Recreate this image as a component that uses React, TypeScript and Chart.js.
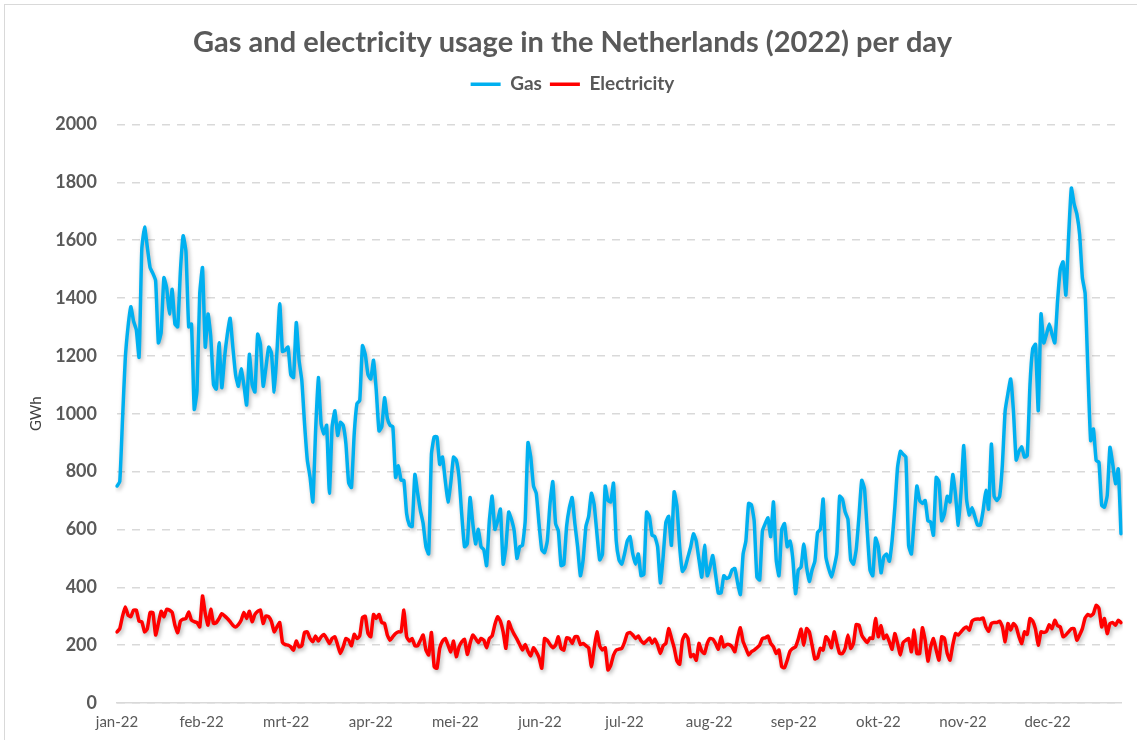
import React, { useEffect, useRef } from 'react';
import { Chart, registerables } from 'chart.js';

Chart.register(...registerables);

// ---- Data ----
const chartTitle = 'Gas and electricity usage in the Netherlands (2022) per day';
const monthLabels = ['jan-22', 'feb-22', 'mrt-22', 'apr-22', 'mei-22', 'jun-22', 'jul-22', 'aug-22', 'sep-22', 'okt-22', 'nov-22', 'dec-22'];
const yMin = 0;
const yMax = 2000;
const yStep = 200;

const gas = [
  750, 765, 980, 1190, 1300, 1370, 1320, 1290, 1195, 1570,
  1645, 1575, 1505, 1485, 1460, 1245, 1280, 1470, 1435, 1345,
  1430, 1310, 1300, 1495, 1615, 1560, 1300, 1310, 1015, 1080,
  1415, 1505, 1230, 1345, 1265, 1100, 1085, 1245, 1090, 1195,
  1275, 1330, 1230, 1135, 1095, 1155, 1100, 1030, 1205, 1100,
  1075, 1275, 1240, 1095, 1160, 1230, 1210, 1075, 1215, 1380,
  1215, 1220, 1230, 1135, 1125, 1315, 1185, 1115, 965, 840,
  780, 695, 940, 1125, 965, 930, 960, 725, 955, 1010,
  925, 970, 960, 895, 760, 745, 930, 1035, 1045, 1235,
  1205, 1135, 1120, 1185, 1080, 940, 955, 1055, 985, 960,
  955, 780, 820, 770, 770, 655, 615, 610, 790, 725,
  665, 620, 540, 515, 860, 920, 920, 825, 850, 770,
  695, 760, 850, 840, 780, 650, 540, 550, 710, 620,
  550, 600, 540, 530, 475, 630, 715, 600, 630, 670,
  480, 540, 660, 635, 595, 500, 540, 545, 630, 900,
  850, 750, 725, 620, 530, 520, 560, 690, 765, 620,
  595, 475, 480, 610, 675, 710, 620, 540, 440, 495,
  610, 645, 725, 685, 585, 495, 515, 750, 700, 695,
  760, 560, 495, 480, 515, 560, 575, 515, 480, 515,
  440, 445, 660, 645, 580, 575, 540, 415, 505, 625,
  645, 545, 730, 680, 540, 455, 470, 505, 540, 585,
  560, 495, 435, 545, 440, 470, 510, 445, 380, 380,
  440, 430, 435, 460, 465, 415, 375, 515, 560, 690,
  685, 630, 435, 425, 595, 620, 640, 575, 695, 495,
  440, 600, 620, 540, 560, 500, 378, 460, 470,
  550, 470, 420, 460, 490, 590, 600, 705, 505, 465,
  435, 470, 520, 715, 705, 660, 635, 495, 480, 530,
  645, 770, 740, 595, 460, 440, 570, 540, 450, 505,
  515, 490, 560, 675, 815, 870, 860, 850, 545, 515,
  630, 750, 700, 690, 700, 630, 625, 580, 780, 765,
  630, 655, 715, 695, 790, 720, 615, 730, 890,
  705, 650, 675, 645, 615, 615, 665, 735, 670, 895,
  715, 700, 715, 825, 1010, 1070, 1120, 1010, 840, 870,
  885, 850, 855, 1100, 1225, 1240, 1010, 1345, 1245, 1275,
  1310, 1275, 1245, 1390, 1500, 1525, 1410, 1610, 1780, 1725,
  1690, 1620, 1470, 1415, 1150, 907, 947, 838, 832, 683,
  677, 717, 884, 826, 758, 809, 585,
];

const electricity = [
  246, 257, 300, 332, 304, 298, 321, 321, 283, 281,
  246, 257, 313, 313, 235, 275, 317, 298, 324, 321,
  313, 269, 243, 283, 290, 292, 315, 286, 281, 278,
  263, 370, 309, 269, 324, 275, 278, 292, 309, 301,
  292, 281, 269, 263, 271, 286, 313, 292, 317, 281,
  306, 317, 321, 275, 301, 298, 281, 246, 263, 278,
  209, 202, 200, 194, 183, 214, 194, 198, 244, 246,
  223, 212, 232, 214, 229, 237, 223, 206, 223, 229,
  200, 171, 194, 223, 217, 198, 237, 223, 232, 296,
  300, 240, 229, 306, 292, 306, 278, 275, 235, 217,
  229, 240, 246, 246, 321, 229, 214, 223, 198, 198,
  217, 235, 183, 166, 244, 125, 120, 189, 214, 223,
  200, 177, 214, 160, 194, 212, 220, 168, 206, 235,
  223, 209, 223, 217, 191, 223, 232, 271, 298, 283,
  246, 189, 281, 257, 237, 221, 202, 183, 202, 179,
  163, 191, 177, 157, 120, 223, 217, 202, 191, 200,
  229, 189, 183, 225, 223, 206, 229, 229, 202, 206,
  198, 191, 125, 189, 246, 198, 183, 191, 114, 130,
  165, 183, 186, 189, 210, 240, 244, 235, 223, 232,
  215, 206, 215, 225, 206, 221, 200, 171, 198, 206,
  257, 225, 191, 145, 134, 217, 237, 223, 160, 168,
  148, 206, 179, 171, 206, 223, 221, 206, 186, 229,
  194, 202, 202, 194, 177, 225, 260, 212, 189, 166,
  177, 183, 191, 200, 223, 225, 232, 206, 194, 171,
  183, 125, 122, 148, 179, 189, 194, 221, 255, 200,
  257, 246, 200, 152, 157, 189, 183, 229, 217, 191,
  246, 206, 171, 171, 189, 235, 189, 206, 271, 269,
  235, 220, 209, 225, 223, 292, 229, 267, 223, 235,
  212, 186, 240, 206, 166, 209, 217, 223, 177, 252,
  171, 171, 260, 217, 145, 194, 223, 183, 148, 229,
  223, 171, 148, 200, 240, 235, 246, 257, 263, 252,
  283, 289, 290, 290, 294, 263, 248, 275, 278, 278,
  283, 263, 212, 275, 252, 275, 263, 229, 206, 246,
  237, 292, 283, 255, 200, 246, 244, 248, 271, 257,
  286, 267, 263, 229, 235, 246, 257, 257, 217, 235,
  257, 294, 306, 301, 309, 338, 327, 263, 292, 240,
  275, 278, 269, 286, 278,
];

// one category per day of 2022
const dayLabels = gas.map((_, i) => {
  const d = new Date(Date.UTC(2022, 0, 1 + i));
  return `${d.getUTCDate()}-${d.getUTCMonth() + 1}-2022`;
});

// spacing (in days) between month labels on the axis
const MONTH_TICK_STEP = 30.67;

const W = 1137;
const H = 740;
const LEGEND_GAP = 20.6;
const PAD_LEFT = 24;

const shadowPlugin = {
  id: 'lineShadow',
  beforeDatasetDraw(chart: any) {
    const c = chart.ctx;
    c.save();
    c.shadowColor = 'rgba(0,0,0,0.28)';
    c.shadowBlur = 4;
    c.shadowOffsetX = 1.5;
    c.shadowOffsetY = 2.5;
  },
  afterDatasetDraw(chart: any) {
    chart.ctx.restore();
  },
};

const legendSpacer = {
  id: 'legendSpacer',
  afterInit(chart: any) {
    const lg = chart.legend;
    if (!lg) return;
    const fit = lg.fit;
    lg.fit = function () {
      fit.call(this);
      this.height += LEGEND_GAP;
    };
  },
};

export default function App() {
  const ref = useRef<HTMLCanvasElement | null>(null);

  useEffect(() => {
    if (!ref.current) return;
    const chart = new Chart(ref.current, {
      type: 'line',
      data: {
        labels: dayLabels,
        datasets: [
          {
            label: 'Gas',
            data: gas,
            borderColor: '#00B0F0',
            backgroundColor: '#00B0F0',
            borderWidth: 3.5,
            pointRadius: 0,
            tension: 0.15,
            borderJoinStyle: 'round',
            borderCapStyle: 'round',
          },
          {
            label: 'Electricity',
            data: electricity,
            borderColor: '#FF0000',
            backgroundColor: '#FF0000',
            borderWidth: 3.5,
            pointRadius: 0,
            tension: 0.15,
            borderJoinStyle: 'round',
            borderCapStyle: 'round',
          },
        ],
      },
      options: {
        responsive: false,
        animation: false,
        devicePixelRatio: 1,
        layout: { padding: { left: PAD_LEFT, right: 16, top: 0, bottom: 0 } },
        plugins: {
          title: {
            display: true,
            text: chartTitle,
            color: '#595959',
            font: { family: 'Lato', size: 29, weight: 'bold' },
            padding: { top: 25, bottom: 7 },
          },
          legend: {
            display: true,
            position: 'top',
            labels: {
              color: '#595959',
              font: { family: 'Lato', size: 19, weight: 'bold' },
              usePointStyle: true,
              pointStyle: 'line',
              pointStyleWidth: 30,
              boxHeight: 19,
              padding: 8,
            },
          },
          tooltip: { enabled: false },
        },
        scales: {
          x: {
            type: 'category',
            offset: false,
            grid: { display: false, drawTicks: false },
            border: { display: true, color: '#d9d9d9', width: 1.5 },
            ticks: {
              autoSkip: false,
              maxRotation: 0,
              minRotation: 0,
              padding: 10,
              color: '#595959',
              font: { family: 'Lato', size: 15 },
              callback: (_v: any, i: number) => monthLabels[i] ?? '',
            },
            afterBuildTicks: (s: any) => {
              s.ticks = monthLabels.map((_, k) => ({ value: k * MONTH_TICK_STEP }));
            },
            afterFit: (s: any) => {
              s.height = 37;
            },
          },
          y: {
            min: yMin,
            max: yMax,
            ticks: {
              stepSize: yStep,
              padding: 20,
              color: '#595959',
              font: { family: 'Lato', size: 18, weight: 'bold' },
              callback: (v: any) => String(v),
            },
            grid: { color: '#d9d9d9', lineWidth: 1.5, drawTicks: false },
            border: { display: false, dash: [8, 7] },
            title: {
              display: true,
              text: 'GWh',
              color: '#404040',
              font: { family: 'Lato', size: 15 },
              padding: { top: 3, bottom: 0 },
            },
            afterFit: (s: any) => {
              s.width = 117 - PAD_LEFT;
            },
          },
        },
      } as any,
      plugins: [shadowPlugin, legendSpacer],
    });
    return () => chart.destroy();
  }, []);

  return (
    <div style={{ position: 'fixed', left: 0, top: 0, width: W, height: H, background: '#fff', overflow: 'hidden' }}>
      <div
        style={{
          position: 'absolute',
          left: 4,
          top: 4,
          width: W + 10,
          height: H + 10,
          border: '1px solid #d9d9d9',
          boxSizing: 'border-box',
        }}
      />
      <canvas ref={ref} width={W} height={H} style={{ position: 'absolute', left: 0, top: 0, width: W, height: H }} />
    </div>
  );
}
